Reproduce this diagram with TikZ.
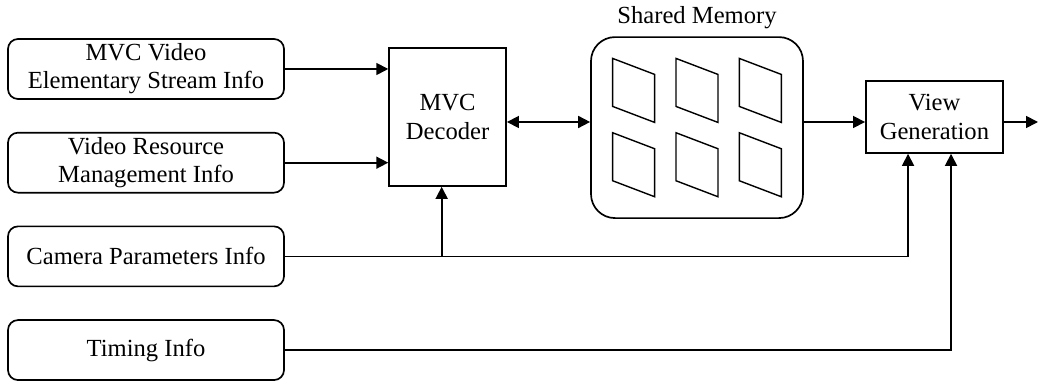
\documentclass[tikz,border=0pt]{standalone}
\usepackage{fontspec}
\setmainfont{Liberation Serif}
\usetikzlibrary{positioning, calc, arrows.meta}
\tikzset{
every node/.style = {font = \fontsize{17.5}{20}\selectfont},
source/.style = {rectangle, draw, rounded corners = 2.5mm, line width = 1.2pt, 
	align = center, inner sep = 0pt, minimum width = 6.9cm, minimum height = 1.5cm},
process/.style = {rectangle, draw, line width = 1.2pt, align = center, inner sep = 0pt},
storage/.style = {rectangle, draw, rounded corners = 6mm, line width = 1.2pt, 
	minimum width = 5.3cm, minimum height = 4.525cm},
frame/.style = {draw, line width = 1pt, line join = miter},
link/.style = {line width = 1.2pt},
signal/.style = {-{Triangle[length = 3mm, width = 3mm]}, line width = 1.2pt},
exchange/.style = {{Triangle[length = 3mm, width = 3mm]}-{Triangle[length = 3mm, width = 3mm]}, 
	line width = 1.2pt}
}

\begin{document}
\begin{tikzpicture}
\useasboundingbox (0,0) rectangle (25.975,-9.625);

%% The information sources
\node [source] (stream) at (3.65,-1.725) {MVC Video\\Elementary Stream Info};
\node [source] (resource) [below = 0.8cm of stream] {Video Resource\\Management Info};
\node [source] (camera) [below = 0.8cm of resource] {Camera Parameters Info};
\node [source] (timing) [below = 0.8cm of camera] {Timing Info};

%% The processing blocks
\node [process, minimum width = 2.925cm, minimum height = 3.45cm] (decoder) at (11.19,-2.925) {MVC\\Decoder};
\node [storage] (memory) at (17.425,-3.19) {};
\node (title) [above = 0.5mm of memory] {Shared Memory};
\node [process, minimum width = 3.425cm, minimum height = 1.8cm] (view) at (23.36,-2.925) {View\\Generation};
\coordinate (out) at (25.95,-3.05);

%% The frames held in the shared memory
\foreach \col in {-1,0,1}
  \foreach \row in {-1,1}
    \draw [frame, shift = {($(memory.center) + (1.583*\col, 0.929*\row)$)}]
      (-0.525,0.8) -- (0.525,0.4) -- (0.525,-0.8) -- (-0.525,-0.4) -- cycle;

%% The data flows
\draw [signal] (stream) -- (decoder.west |- stream);
\draw [signal] (resource) -- (decoder.west |- resource);
\draw [exchange] (decoder.east |- out) -- (memory.west |- out);
\draw [signal] (memory.east |- out) -- (view.west |- out);
\draw [signal] (view.east |- out) -- (out);

%% The parameter inputs
\coordinate (dec in) at ($(decoder.south west) !0.45! (decoder.south east)$);
\coordinate (cam in) at ($(view.south west) !0.31! (view.south east)$);
\coordinate (time in) at ($(view.south west) !0.62! (view.south east)$);
\draw [signal] (camera.east) -| (cam in);
\draw [signal] (camera.east -| dec in) -- (dec in);
\draw [signal] (timing.east) -| (time in);

\end{tikzpicture}
\end{document}
